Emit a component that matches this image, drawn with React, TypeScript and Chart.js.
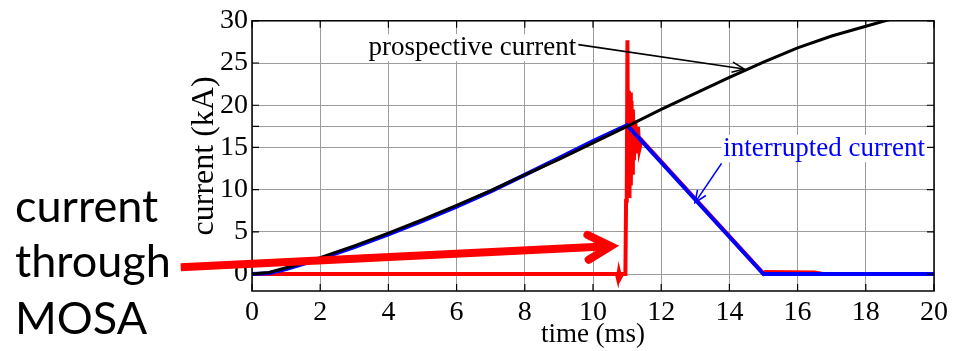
import React, { useEffect, useRef } from 'react';
import { Chart, registerables } from 'chart.js';

Chart.register(...registerables);

// ---------- data ----------
const X_TICKS = [0, 2, 4, 6, 8, 10, 12, 14, 16, 18, 20];
const Y_TICKS = [0, 5, 10, 15, 17.5, 20, 25, 30];
const Y_LABELED = [0, 5, 10, 15, 20, 25, 30];

const PROSPECTIVE_T = [0, 0.5, 1, 1.5, 2, 3, 4, 5, 6, 7, 8, 9, 10, 11, 12, 13, 14, 15, 16, 17, 18, 19, 20];
const PROSPECTIVE_I = [0, 0.2, 0.75, 1.3, 1.95, 3.35, 4.85, 6.45, 8.15, 9.9, 11.75, 13.6, 15.55, 17.5, 19.5, 21.4, 23.3, 25.1, 26.8, 28.2, 29.35, 30.5, 31.5];

const INTERRUPTED_T = [0, 0.5, 1, 2, 3, 4, 5, 6, 7, 8, 9, 10, 11, 15, 20];
const INTERRUPTED_I = [0, 0.1, 0.6, 1.8, 3.2, 4.7, 6.3, 8.0, 9.8, 11.75, 13.75, 15.75, 17.65, 0, 0];

const MOSA_T = [0, 10.7, 10.73, 10.76, 10.8, 10.85, 10.95, 10.97, 10.99, 11.01, 11.03, 11.05, 11.07, 11.09, 11.11, 11.13, 11.15, 11.17, 11.2, 11.24, 11.28, 11.32, 11.36, 11.42, 15, 15.05, 16.5, 16.7, 20];
const MOSA_I = [0, 0, -0.5, 0.3, -0.4, 0, 0, 8.7, 9.2, 27.7, 9.5, 21.7, 9.0, 21.5, 10.5, 20.5, 12, 19.5, 13.5, 18.2, 14.3, 17.4, 14.8, 15.9, 0.05, 0.25, 0.2, 0.05, 0];

// ---------- annotations (data units) ----------
const PROSPECTIVE_LABEL = { text: 'prospective current', x: 3.42, y: 26.87 };
const PROSPECTIVE_ARROW = { from: { x: 9.57, y: 27.18 }, to: { x: 14.43, y: 24.3 } };
const INTERRUPTED_LABEL = { text: 'interrupted current', x: 13.82, y: 14.93 };
const INTERRUPTED_ARROW = { from: { x: 13.77, y: 13.11 }, to: { x: 12.99, y: 8.47 } };
const MOSA_LABEL_LINES = ['current', 'through', 'MOSA'];
const MOSA_LABEL_POS = { x: -6.95, y: [6.23, -0.38, -7.1] };
const MOSA_ARROW = { from: { x: -2.09, y: 0.82 }, to: { x: 10.64, y: 3.33 } };

const SERIF = "'Liberation Serif', 'Times New Roman', serif";

const toXY = (ts: number[], vs: number[]) => ts.map((t, i) => ({ x: t, y: vs[i] }));

function arrowHead(ctx: CanvasRenderingContext2D, x0: number, y0: number, x1: number, y1: number, len: number, ang: number) {
  const a = Math.atan2(y1 - y0, x1 - x0);
  ctx.beginPath();
  ctx.moveTo(x1 - len * Math.cos(a - ang), y1 - len * Math.sin(a - ang));
  ctx.lineTo(x1, y1);
  ctx.lineTo(x1 - len * Math.cos(a + ang), y1 - len * Math.sin(a + ang));
  ctx.stroke();
}

const overlayPlugin = {
  id: 'overlay',
  afterDatasetsDraw(chart: any) {
    const { ctx, chartArea: a, scales } = chart;
    const xs = scales.x;
    const ys = scales.y;
    const px = (v: number) => xs.getPixelForValue(v);
    const py = (v: number) => ys.getPixelForValue(v);
    ctx.save();

    // box + inner tick marks
    ctx.strokeStyle = '#000';
    ctx.lineWidth = 1.5;
    ctx.strokeRect(a.left, a.top, a.right - a.left, a.bottom - a.top);
    ctx.lineWidth = 1.2;
    const tl = 7;
    ctx.beginPath();
    xs.ticks.forEach((t: any) => {
      const x = px(t.value);
      ctx.moveTo(x, a.bottom); ctx.lineTo(x, a.bottom - tl);
      ctx.moveTo(x, a.top); ctx.lineTo(x, a.top + tl);
    });
    ys.ticks.forEach((t: any) => {
      const y = py(t.value);
      ctx.moveTo(a.left, y); ctx.lineTo(a.left + tl, y);
      ctx.moveTo(a.right, y); ctx.lineTo(a.right - tl, y);
    });
    ctx.stroke();

    // labels with white background
    ctx.font = `27px ${SERIF}`;
    ctx.textBaseline = 'middle';
    ctx.textAlign = 'left';
    const drawLabel = (lab: { text: string; x: number; y: number }, color: string) => {
      const x = px(lab.x);
      const y = py(lab.y);
      const w = ctx.measureText(lab.text).width;
      ctx.fillStyle = '#fff';
      ctx.fillRect(x - 2, y - 13, w + 4, 27);
      ctx.fillStyle = color;
      ctx.fillText(lab.text, x, y + 1);
    };
    drawLabel(PROSPECTIVE_LABEL, '#000');
    drawLabel(INTERRUPTED_LABEL, '#0000ff');

    // thin arrows
    const thinArrow = (ar: any, color: string) => {
      const x0 = px(ar.from.x), y0 = py(ar.from.y), x1 = px(ar.to.x), y1 = py(ar.to.y);
      ctx.strokeStyle = color;
      ctx.lineWidth = 1.6;
      ctx.beginPath();
      ctx.moveTo(x0, y0);
      ctx.lineTo(x1, y1);
      ctx.stroke();
      arrowHead(ctx, x0, y0, x1, y1, 13, 0.4);
    };
    thinArrow(PROSPECTIVE_ARROW, '#000');
    thinArrow(INTERRUPTED_ARROW, '#0000ff');

    // big red arrow
    {
      const x0 = px(MOSA_ARROW.from.x), y0 = py(MOSA_ARROW.from.y), x1 = px(MOSA_ARROW.to.x), y1 = py(MOSA_ARROW.to.y);
      const a2 = Math.atan2(y1 - y0, x1 - x0);
      ctx.strokeStyle = '#ff0000';
      ctx.lineWidth = 8;
      ctx.lineCap = 'butt';
      ctx.beginPath();
      ctx.moveTo(x0, y0);
      ctx.lineTo(x1 - 6 * Math.cos(a2), y1 - 6 * Math.sin(a2));
      ctx.stroke();
      ctx.lineJoin = 'miter';
      ctx.lineCap = 'round';
      arrowHead(ctx, x0, y0, x1 - 4 * Math.cos(a2), y1 - 4 * Math.sin(a2), 26, 0.5);
    }

    // side text
    ctx.fillStyle = '#000';
    ctx.font = "45px Lato, 'Open Sans', sans-serif";
    ctx.textBaseline = 'alphabetic';
    ctx.textAlign = 'left';
    MOSA_LABEL_LINES.forEach((s, i) => {
      ctx.fillText(s, px(MOSA_LABEL_POS.x), py(MOSA_LABEL_POS.y[i]));
    });

    ctx.restore();
  },
};

export default function App() {
  const ref = useRef<HTMLCanvasElement | null>(null);

  useEffect(() => {
    document.body.style.margin = '0';
    const canvas = ref.current;
    if (!canvas) return;
    const chart = new Chart(canvas, {
      type: 'line',
      data: {
        datasets: [
          {
            label: 'prospective current',
            data: toXY(PROSPECTIVE_T, PROSPECTIVE_I),
            borderColor: '#000000',
            borderWidth: 3,
            pointRadius: 0,
            tension: 0,
            order: 1,
          },
          {
            label: 'interrupted current',
            data: toXY(INTERRUPTED_T, INTERRUPTED_I),
            borderColor: '#0000ff',
            borderWidth: 4,
            pointRadius: 0,
            tension: 0,
            order: 2,
          },
          {
            label: 'current through MOSA',
            data: toXY(MOSA_T, MOSA_I),
            borderColor: '#ff0000',
            borderWidth: 4,
            pointRadius: 0,
            tension: 0,
            order: 3,
          },
        ],
      },
      options: {
        responsive: false,
        animation: false,
        devicePixelRatio: 1,
        layout: { padding: { left: 185, right: 15, top: 15, bottom: 0 } },
        plugins: { legend: { display: false }, tooltip: { enabled: false } },
        scales: {
          x: {
            type: 'linear',
            min: 0,
            max: 20,
            afterBuildTicks: (s: any) => {
              s.ticks = X_TICKS.map((v) => ({ value: v }));
            },
            afterFit: (s: any) => {
              s.height = 60;
            },
            grid: { color: '#9c9c9c', lineWidth: 1, drawTicks: false },
            border: { display: false },
            ticks: {
              font: { family: SERIF, size: 28 },
              color: '#000',
              padding: 5,
              maxRotation: 0,
              autoSkip: false,
              callback: (v: any) => String(v),
            },
            title: {
              display: true,
              text: 'time (ms)',
              font: { family: SERIF, size: 27 },
              color: '#000',
              padding: { top: 0, bottom: 0 },
            },
          },
          y: {
            type: 'linear',
            min: -2,
            max: 30,
            afterBuildTicks: (s: any) => {
              s.ticks = Y_TICKS.map((v) => ({ value: v }));
            },
            afterFit: (s: any) => {
              s.width = 67;
            },
            grid: { color: '#9c9c9c', lineWidth: 1, drawTicks: false },
            border: { display: false },
            ticks: {
              font: { family: SERIF, size: 28 },
              color: '#000',
              padding: 4,
              autoSkip: false,
              callback: (v: any) => (Y_LABELED.includes(Number(v)) ? String(v) : ''),
            },
            title: {
              display: true,
              text: 'current (kA)',
              font: { family: SERIF, size: 32 },
              color: '#000',
              padding: { top: 0, bottom: 0 },
            },
          },
        },
      },
      plugins: [overlayPlugin],
    } as any);
    return () => chart.destroy();
  }, []);

  return <canvas ref={ref} width={953} height={351} style={{ display: 'block' }} />;
}
